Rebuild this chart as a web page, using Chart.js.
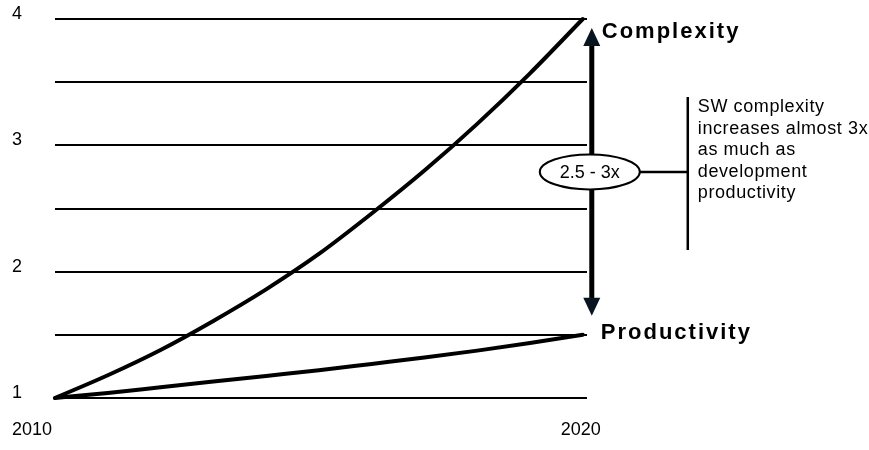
<!DOCTYPE html>
<html>
<head>
<meta charset="utf-8">
<script src="https://cdn.jsdelivr.net/npm/chart.js@4.4.1/dist/chart.umd.min.js"></script>
<style>
  body { margin: 0; background: #fff; }
  #wrap { width: 869px; height: 450px; }
</style>
</head>
<body>
<div id="wrap"><canvas id="chart" width="869" height="450"></canvas></div>
<script>
// values, one per year
const years = [2010, 2011, 2012, 2013, 2014, 2015, 2016, 2017, 2018, 2019, 2020];
const complexity = [1, 1.18, 1.38, 1.61, 1.86, 2.14, 2.46, 2.80, 3.17, 3.57, 4.0];
const productivity = [1, 1.04, 1.085, 1.13, 1.175, 1.22, 1.27, 1.32, 1.375, 1.435, 1.5];
const seriesNames = ['Complexity', 'Productivity'];
const xTicks = [2010, 2020];
const yTicks = [1, 2, 3, 4];
const rangeLabel = '2.5 - 3x';
const noteLines = ['SW complexity', 'increases almost 3x', 'as much as', 'development', 'productivity'];

const FONT = '"Liberation Sans", Arial, sans-serif';
Chart.defaults.font.family = FONT;
Chart.defaults.font.size = 18;
Chart.defaults.color = '#000';

// arrow, ellipse, bracket, notes and the x labels
const notes = {
  id: 'notes',
  afterDraw(chart) {
    const ctx = chart.ctx;
    const xs = chart.scales.x, ys = chart.scales.y;
    const last = years.length - 1;
    const xEnd = xs.getPixelForValue(years[last]);
    const yTop = ys.getPixelForValue(complexity[last]);
    const yBot = ys.getPixelForValue(productivity[last]);
    ctx.save();

    ctx.font = '18px ' + FONT;
    ctx.fillStyle = '#000';
    ctx.textAlign = 'center';
    ctx.textBaseline = 'middle';
    const shift = [-23, -2];
    xTicks.forEach((t, i) => {
      ctx.fillText(String(t), xs.getPixelForValue(t) + shift[i], chart.chartArea.bottom + 32);
    });

    // double arrow
    const ax = xEnd + 9;
    const a1 = yTop + 9, a2 = yBot - 19;
    ctx.strokeStyle = '#000';
    ctx.lineWidth = 5;
    ctx.beginPath();
    ctx.moveTo(ax, a1 + 14);
    ctx.lineTo(ax, a2 - 14);
    ctx.stroke();
    ctx.fillStyle = '#08141f';
    ctx.beginPath();
    ctx.moveTo(ax, a1); ctx.lineTo(ax - 8.5, a1 + 18); ctx.lineTo(ax + 8.5, a1 + 18);
    ctx.closePath(); ctx.fill();
    ctx.beginPath();
    ctx.moveTo(ax, a2); ctx.lineTo(ax - 8.5, a2 - 18); ctx.lineTo(ax + 8.5, a2 - 18);
    ctx.closePath(); ctx.fill();

    // ellipse with range
    const ey = (a1 + a2) / 2;
    const ex = ax - 2;
    ctx.beginPath();
    ctx.ellipse(ex, ey, 50, 17.5, 0, 0, Math.PI * 2);
    ctx.fillStyle = '#fff';
    ctx.fill();
    ctx.lineWidth = 2;
    ctx.strokeStyle = '#000';
    ctx.stroke();
    ctx.fillStyle = '#000';
    ctx.fillText(rangeLabel, ex, ey + 1);

    // connector and bracket
    ctx.lineWidth = 2.5;
    ctx.beginPath();
    ctx.moveTo(ex + 50, ey);
    ctx.lineTo(ax + 96, ey);
    ctx.moveTo(ax + 96, ey - 75);
    ctx.lineTo(ax + 96, ey + 78);
    ctx.stroke();

    ctx.textAlign = 'left';
    ctx.letterSpacing = '0.6px';
    noteLines.forEach((s, i) => ctx.fillText(s, ax + 106, ey - 64.5 + i * 21.5));

    // series names
    ctx.font = 'bold 22px ' + FONT;
    ctx.letterSpacing = '2px';
    ctx.fillText(seriesNames[0], xEnd + 19, yTop + 13);
    ctx.fillText(seriesNames[1], xEnd + 18, yBot - 2);
    ctx.restore();
  }
};

const line = (data) => ({
  data: years.map((y, i) => ({ x: y, y: data[i] })),
  borderColor: '#000',
  borderWidth: 4,
  pointRadius: 0,
  cubicInterpolationMode: 'monotone',
  borderCapStyle: 'round',
  borderJoinStyle: 'round',
  clip: 10
});

new Chart(document.getElementById('chart'), {
  type: 'line',
  data: {
    datasets: [
      Object.assign(line(complexity), { label: seriesNames[0] }),
      Object.assign(line(productivity), { label: seriesNames[1] })
    ]
  },
  options: {
    responsive: false,
    animation: false,
    layout: { padding: { left: 12, top: 19, right: 282, bottom: 52 } },
    plugins: { legend: { display: false }, tooltip: { enabled: false } },
    scales: {
      x: {
        type: 'linear',
        display: false,
        min: years[0],
        // grid runs a little past the last year
        max: years[years.length - 1] + 0.08
      },
      y: {
        min: 1,
        max: 4,
        border: { display: false },
        grid: { color: '#000', lineWidth: 2, drawTicks: false },
        afterFit: (s) => { s.width = 43; },
        ticks: {
          stepSize: 0.5,
          padding: 3,
          crossAlign: 'far',
          labelOffset: -5,
          callback: (v) => yTicks.includes(v) ? String(v) : ''
        }
      }
    }
  },
  plugins: [notes]
});
</script>
</body>
</html>
